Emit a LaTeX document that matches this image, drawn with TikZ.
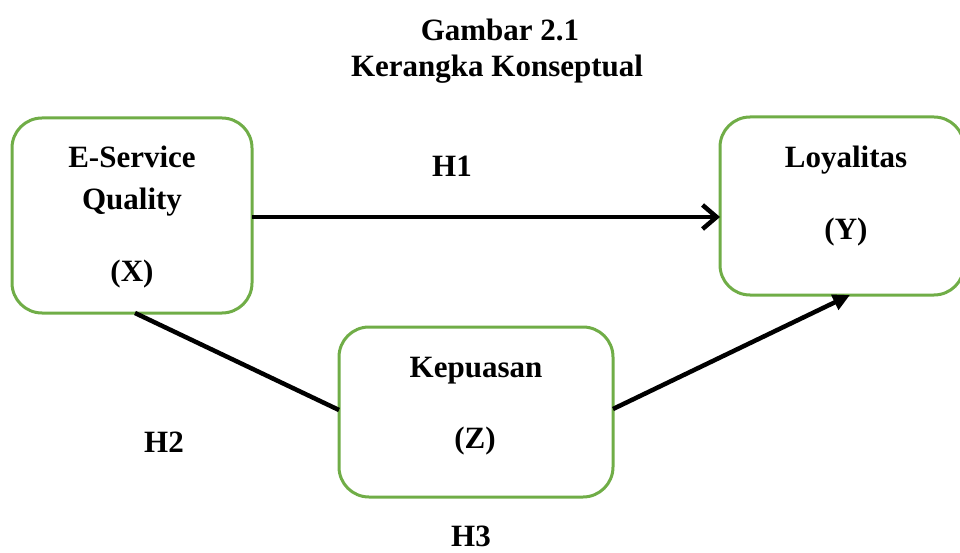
\documentclass[tikz,border=0pt]{standalone}
\usepackage{fontspec}
\setmainfont{Liberation Serif}
\usetikzlibrary{arrows.meta}
\definecolor{boxgreen}{RGB}{112,173,71}
\tikzset{
  varbox/.style={draw=boxgreen, line width=3pt, rounded corners=30pt, fill=white},
  lbl/.style={anchor=base, inner sep=0pt, font=\fontsize{31}{37}\selectfont\bfseries},
  conn/.style={line width=4.5pt, black},
}
\begin{document}
\begin{tikzpicture}[x=1pt,y=-1pt]
\useasboundingbox (0,0) rectangle (960,553);
% boxes
\draw[varbox] (12,118) rectangle (252,313);
\draw[varbox] (720,117) rectangle (964,295);
\draw[varbox] (339,327) rectangle (613,497);
\coordinate (xr) at (252,217);
\coordinate (yl) at (720,217);
\coordinate (xb) at (135,313);
\coordinate (zl) at (339,410);
\coordinate (zr) at (613,409);
\coordinate (yb) at (850,295);
% title
\node[lbl] (t1) at (500,41) {Gambar 2.1};
\node[lbl] (t2) at (497,77) {Kerangka Konseptual};
% box texts
\node[lbl] (x1) at (132,168) {E-Service};
\node[lbl] (x2) at (132,210) {Quality};
\node[lbl] (x3) at (132,281) {(X)};
\node[lbl] (y1) at (846,168) {Loyalitas};
\node[lbl] (y2) at (846,240) {(Y)};
\node[lbl] (z1) at (476,377) {Kepuasan};
\node[lbl] (z2) at (475,448) {(Z)};
% hypothesis labels
\node[lbl] (h1) at (452,177) {H1};
\node[lbl] (h2) at (164,452) {H2};
\node[lbl] (h3) at (471,546) {H3};
% connectors
\draw[conn, -{Straight Barb[length=14pt,width=24pt,line width=4.5pt]}] (xr) -- (yl);
\draw[conn] (xb) -- (zl);
\draw[conn, -{Triangle[length=17pt,width=16pt]}] (zr) -- (yb);
\end{tikzpicture}
\end{document}
